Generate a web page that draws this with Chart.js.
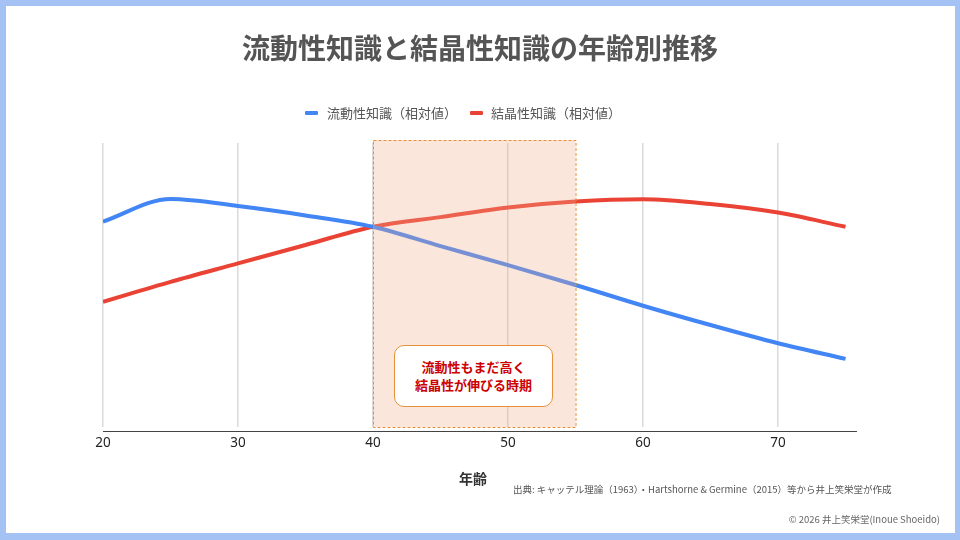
<!DOCTYPE html>
<html lang="ja">
<head>
<meta charset="utf-8">
<script src="https://cdn.jsdelivr.net/npm/chart.js@4.4.1/dist/chart.umd.min.js"></script>
<style>
  html, body { margin:0; padding:0; }
  body { width:960px; height:540px; background:#a4c2f4; position:relative; overflow:hidden;
         font-family:"Noto Sans CJK JP","Noto Sans",sans-serif; }
  #panel { position:absolute; left:6px; top:6px; width:949px; height:527px; background:#fff; }
  #chart { position:absolute; left:0; top:0; }
  .t { position:absolute; white-space:nowrap; }
  #title { left:0; width:960px; top:27px; text-align:center; font-size:28px; font-weight:700; color:#555; line-height:40px; }
  .leg { position:absolute; top:104px; font-size:13px; color:#555; line-height:18px; white-space:nowrap; }
  .sw { position:absolute; width:13px; height:4px; border-radius:1px; }
  #xlabel { left:459px; top:468px; font-size:14px; font-weight:700; color:#333; line-height:20px; }
  #source { left:513px; top:482px; font-size:9.5px; color:#555; line-height:14px; }
  #copy { right:20px; top:512px; font-size:9.5px; color:#666; line-height:14px; }
  #note { position:absolute; left:394px; top:345px; width:157px; height:60px; border:1px solid #e69138;
          border-radius:10px; background:#fff; display:flex; align-items:center; justify-content:center;
          text-align:center; font-size:13px; font-weight:700; color:#cc0000; line-height:18px; }
</style>
</head>
<body>
<div id="panel"></div>
<canvas id="chart" width="960" height="540"></canvas>
<div class="t" id="title">流動性知識と結晶性知識の年齢別推移</div>
<div class="sw" style="left:305px;top:111px;background:#4285f4"></div>
<div class="leg" style="left:327px">流動性知識（相対値）</div>
<div class="sw" style="left:470px;top:111px;background:#ea4335"></div>
<div class="leg" style="left:491px">結晶性知識（相対値）</div>
<div id="note">流動性もまだ高く<br>結晶性が伸びる時期</div>
<div class="t" id="xlabel">年齢</div>
<div class="t" id="source">出典: キャッテル理論（1963）・Hartshorne &amp; Germine（2015）等から井上笑栄堂が作成</div>
<div class="t" id="copy">© 2026 井上笑栄堂(Inoue Shoeido)</div>
<script>
const ages = [20, 25, 30, 35, 40, 45, 50, 55, 60, 65, 70, 75];
const fluidValues = [72.3, 80.3, 77.8, 74.5, 70.5, 63.7, 57.0, 50.0, 42.7, 35.9, 29.5, 24.0];
const crystalValues = [44.1, 51.1, 57.6, 64.1, 70.5, 73.9, 77.3, 79.4, 80.2, 78.5, 75.5, 70.5];
const seriesNames = ['流動性知識(相対値)', '結晶性知識(相対値)'];
const xTickValues = [20, 30, 40, 50, 60, 70];
const highlightRange = [40, 55];

const highlightPlugin = {
  id: 'highlight',
  afterDatasetsDraw(chart) {
    const { ctx, chartArea, scales } = chart;
    const x0 = scales.x.getPixelForValue(highlightRange[0]);
    const x1 = scales.x.getPixelForValue(highlightRange[1]);
    const y0 = chartArea.top - 3;
    const y1 = chartArea.bottom;
    ctx.save();
    ctx.fillStyle = 'rgba(242,172,138,0.30)';
    ctx.fillRect(x0, y0, x1 - x0, y1 - y0);
    ctx.strokeStyle = '#e69138';
    ctx.lineWidth = 1;
    ctx.setLineDash([3, 2]);
    ctx.strokeRect(x0 + 0.5, y0 + 0.5, x1 - x0, y1 - y0);
    ctx.setLineDash([]);
    // axis baseline
    ctx.strokeStyle = '#444';
    ctx.lineWidth = 1;
    ctx.beginPath();
    ctx.moveTo(chartArea.left, chartArea.bottom + 4.5);
    ctx.lineTo(chartArea.right, chartArea.bottom + 4.5);
    ctx.stroke();
    ctx.restore();
  }
};

new Chart(document.getElementById('chart'), {
  type: 'line',
  data: {
    datasets: [
      {
        label: seriesNames[0],
        data: ages.map((a, i) => ({ x: a, y: fluidValues[i] })),
        borderColor: '#4285f4',
        borderWidth: 4,
        pointRadius: 0,
        cubicInterpolationMode: 'monotone',
        fill: false
      },
      {
        label: seriesNames[1],
        data: ages.map((a, i) => ({ x: a, y: crystalValues[i] })),
        borderColor: '#ea4335',
        borderWidth: 4,
        pointRadius: 0,
        cubicInterpolationMode: 'monotone',
        fill: false
      }
    ]
  },
  options: {
    responsive: false,
    animation: false,
    devicePixelRatio: 1,
    layout: { padding: { left: 103, right: 103, top: 143, bottom: 83 } },
    plugins: { legend: { display: false }, tooltip: { enabled: false }, title: { display: false } },
    scales: {
      x: {
        type: 'linear',
        min: 20,
        max: 75.85,
        afterBuildTicks(scale) { scale.ticks = xTickValues.map(v => ({ value: v })); },
        afterFit(scale) { scale.height = 30; },
        ticks: {
          font: { family: '"Noto Sans","Noto Sans CJK JP",sans-serif', size: 13.5 },
          color: '#222',
          padding: 8,
          maxRotation: 0
        },
        grid: { color: '#dadada', lineWidth: 1.5, drawTicks: false },
        border: { display: false }
      },
      y: { display: false, min: 0, max: 100 }
    }
  },
  plugins: [highlightPlugin]
});
</script>
</body>
</html>
